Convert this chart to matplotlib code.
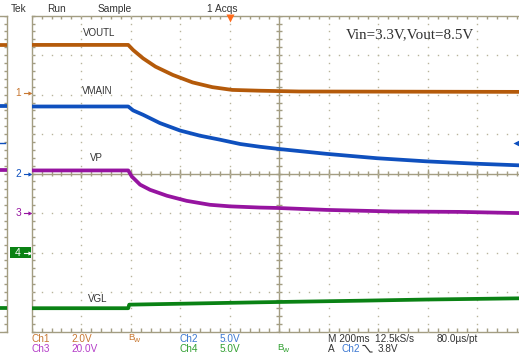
import numpy as np
import matplotlib
matplotlib.use("Agg")
import matplotlib.pyplot as plt

# screen units: x in time divisions (200 ms/div), y in vertical divisions
# VOUTL (Ch1)
ch1_t = [0, 1.95, 2.05, 2.25, 2.5, 2.85, 3.25, 3.65, 4.05, 4.6, 5.4, 10]
ch1_v = [3.26, 3.26, 3.13, 2.92, 2.71, 2.50, 2.31, 2.19, 2.12, 2.10, 2.08, 2.07]
# VMAIN (Ch2)
ch2_t = [0, 1.95, 2.05, 2.25, 2.59, 3.0, 3.40, 3.80, 4.21, 4.61, 5.02, 5.96, 6.97, 7.98, 8.99, 9.84, 10]
ch2_v = [1.70, 1.70, 1.60, 1.49, 1.28, 1.09, 0.96, 0.86, 0.75, 0.68, 0.62, 0.50, 0.39, 0.31, 0.25, 0.21, 0.20]
# VP (Ch3)
ch3_t = [0, 1.95, 2.02, 2.19, 2.39, 2.73, 3.13, 3.60, 4.01, 4.61, 4.95, 5.96, 7.30, 8.65, 9.84, 10]
ch3_v = [0.08, 0.08, -0.07, -0.28, -0.41, -0.56, -0.69, -0.79, -0.83, -0.86, -0.87, -0.92, -0.96, -0.97, -1.00, -1.00]
# VGL (Ch4)
ch4_t = [0, 1.95, 1.97, 4.61, 6.63, 7.98, 9.84, 10]
ch4_v = [-3.41, -3.41, -3.32, -3.26, -3.22, -3.19, -3.16, -3.16]

names = ["VOUTL", "VMAIN", "VP", "VGL"]
ground_levels = [2.04, 0.0, -1.0, -2.0]
trig_pos = 4.0
trig_level = 0.77

C1, C2, C3, C4 = "#b45a0a", "#0f50be", "#9614a0", "#0a8214"
T1, T2, T3, T4 = "#c87832", "#3c78d2", "#b43cc8", "#32a032"
GRAT = "#a39d82"
DOT = "#b8b49c"
TXT = "#333333"
FONT = "Liberation Sans"

W, H = 519, 355
fig = plt.figure(figsize=(W / 100, H / 100), dpi=100)
fig.patch.set_facecolor("white")

top_px, bot_px, left_px, div_px = 15.7, 331.5, 31.7, 49.5
ax = fig.add_axes([left_px / W, (H - bot_px) / H, 10 * div_px / W, (bot_px - top_px) / H])
ax.set_xlim(0, 10)
ax.set_ylim(-4, 4)
ax.axis("off")

# overlay in pixel coordinates for the readouts
ov = fig.add_axes([0, 0, 1, 1], zorder=-1)
ov.set_xlim(0, W)
ov.set_ylim(H, 0)
ov.axis("off")

# graticule
lw = 1.0
for yy in (4, -4, 0):
    ax.plot([0, 10], [yy, yy], color=GRAT, lw=lw, clip_on=False, zorder=1)
for xx in (0, 5):
    ax.plot([xx, xx], [-4, 4], color=GRAT, lw=lw, clip_on=False, zorder=1)
minor_x = np.arange(0, 10.001, 0.2)
minor_y = np.arange(-4, 4.001, 0.2)
tx, ty = 3.5 / div_px, 3.5 / 39.5
ax.vlines(minor_x, 4 - ty, 4, color=GRAT, lw=lw, zorder=1)
ax.vlines(minor_x, -4, -4 + ty, color=GRAT, lw=lw, zorder=1)
ax.vlines(minor_x, -ty * 0.8, ty * 0.8, color=GRAT, lw=lw, zorder=1)
ax.vlines(np.arange(0, 11), -ty * 1.2, ty * 1.2, color=GRAT, lw=lw, zorder=1)
ax.hlines(minor_y, 0, tx, color=GRAT, lw=lw, zorder=1, clip_on=False)
ax.hlines(minor_y, 5 - tx * 0.9, 5 + tx * 0.9, color=GRAT, lw=lw, zorder=1)
for xx in [1, 2, 3, 4, 6, 7, 8, 9]:
    ax.plot(np.full_like(minor_y, xx), minor_y, ls="none", marker="s", ms=1.0,
            mec="none", mfc=DOT, zorder=1)
for yy in [-3, -2, -1, 1, 2, 3]:
    ax.plot(minor_x, np.full_like(minor_x, yy), ls="none", marker="s", ms=1.0,
            mec="none", mfc=DOT, zorder=1)

# traces
for t, v, c in [(ch1_t, ch1_v, C1), (ch2_t, ch2_v, C2), (ch3_t, ch3_v, C3), (ch4_t, ch4_v, C4)]:
    ax.plot(t, v, color=c, lw=2.7, solid_capstyle="butt", solid_joinstyle="round", zorder=3)

# trace labels
label_pos = [(1.37, 3.56), (1.33, 2.10), (1.30, 0.40), (1.34, -3.17)]
for name, (lx, ly) in zip(names, label_pos):
    ax.text(lx, ly, name, ha="center", va="center", fontsize=7, family=FONT, color=TXT, zorder=4)

ax.text(7.65, 3.52, "Vin=3.3V,Vout=8.5V", ha="center", va="center", fontsize=10.8,
        family="Liberation Serif", color="#303030", zorder=4)

# trigger position and level markers
ax.plot([trig_pos], [3.93], marker="v", ms=6, color="#ff6a1a", mec="none", clip_on=False, zorder=5)
ax.plot([9.78], [trig_level], marker="<", ms=4, color=C2, mec="none", clip_on=False, zorder=5)
ax.plot([9.8, 9.95], [trig_level, trig_level], color=C2, lw=1.2, clip_on=False, zorder=5)

# left strip (record overview)
strip = fig.add_axes([0, (H - bot_px) / H, 7.3 / W, (bot_px - top_px) / H])
strip.set_xlim(0, 1)
strip.set_ylim(-4, 4)
strip.axis("off")
strip.plot([1, 1], [-4, 4], color=GRAT, lw=lw, clip_on=False)
strip.plot([0, 1], [4, 4], color=GRAT, lw=lw, clip_on=False)
strip.plot([0, 1], [-4, -4], color=GRAT, lw=lw, clip_on=False)
strip.hlines(minor_y, 0.5, 1, color=GRAT, lw=lw)
for v, c in [(ch1_v, C1), (ch2_v, C2), (ch3_v, C3), (ch4_v, C4)]:
    strip.plot([0, 1], [v[0], v[0]], color=c, lw=2.7, solid_capstyle="butt")
strip.plot([0, 0.7], [trig_level, trig_level], color=C2, lw=1.0)

# channel ground markers
def gy(level):
    return 173.6 - level * 39.5

for i, (lev, c) in enumerate(zip(ground_levels[:3], [T1, C2, C3])):
    y = gy(lev)
    ov.text(18, y, str(i + 1), ha="center", va="center", fontsize=7.3, family=FONT, color=c)
    ov.plot([24, 30], [y, y], color=c, lw=0.8)
    ov.plot([30], [y], marker=">", ms=3, color=c, mec="none")
y4 = gy(ground_levels[3])
ov.add_patch(plt.Rectangle((10, y4 - 5.5), 21, 11, color=C4, lw=0))
ov.text(18, y4, "4", ha="center", va="center", fontsize=7.5, family=FONT, color="white")
ov.plot([24, 30], [y4, y4], color="white", lw=0.8)
ov.plot([30], [y4], marker=">", ms=3, color="white", mec="none")

# header readouts
hdr = [("Tek", 18.5), ("Run", 57), ("Sample", 114.5), ("1 Acqs", 222)]
for s, x in hdr:
    ov.text(x, 9.3, s, ha="center", va="center", fontsize=7.3, family=FONT, color=TXT)

# bottom readouts
row1, row2 = 338.5, 348.5
fs = 7.2
bottom = [
    (32, row1, "Ch1", T1), (71, row1, "2.0V", T1), (180, row1, "Ch2", T2), (220, row1, "5.0V", T2),
    (328, row1, "M 200ms  12.5kS/s", TXT), (437, row1, "80.0\u00b5s/pt", TXT),
    (32, row2, "Ch3", T3), (71, row2, "20.0V", T3), (180, row2, "Ch4", T4), (220, row2, "5.0V", T4),
    (328, row2, "A", TXT), (341, row2, "Ch2", T2), (378, row2, "3.8V", TXT),
]
for x, y, s, c in bottom:
    ov.text(x, y, s, ha="left", va="center", fontsize=fs, family=FONT, color=c)
for x, y, c in [(128, row1, T1), (277, row2, T4)]:
    ov.text(x, y - 0.5, "B", ha="left", va="center", fontsize=6.8, family=FONT, color=c)
    ov.text(x + 5, y + 1.5, "w", ha="left", va="center", fontsize=6, family=FONT, color=c)
# falling slope symbol
ov.plot([363, 365, 370, 372], [345.5, 345.5, 352, 352], color=TXT, lw=0.8)

fig.savefig("out.png", dpi=100, facecolor="white")
